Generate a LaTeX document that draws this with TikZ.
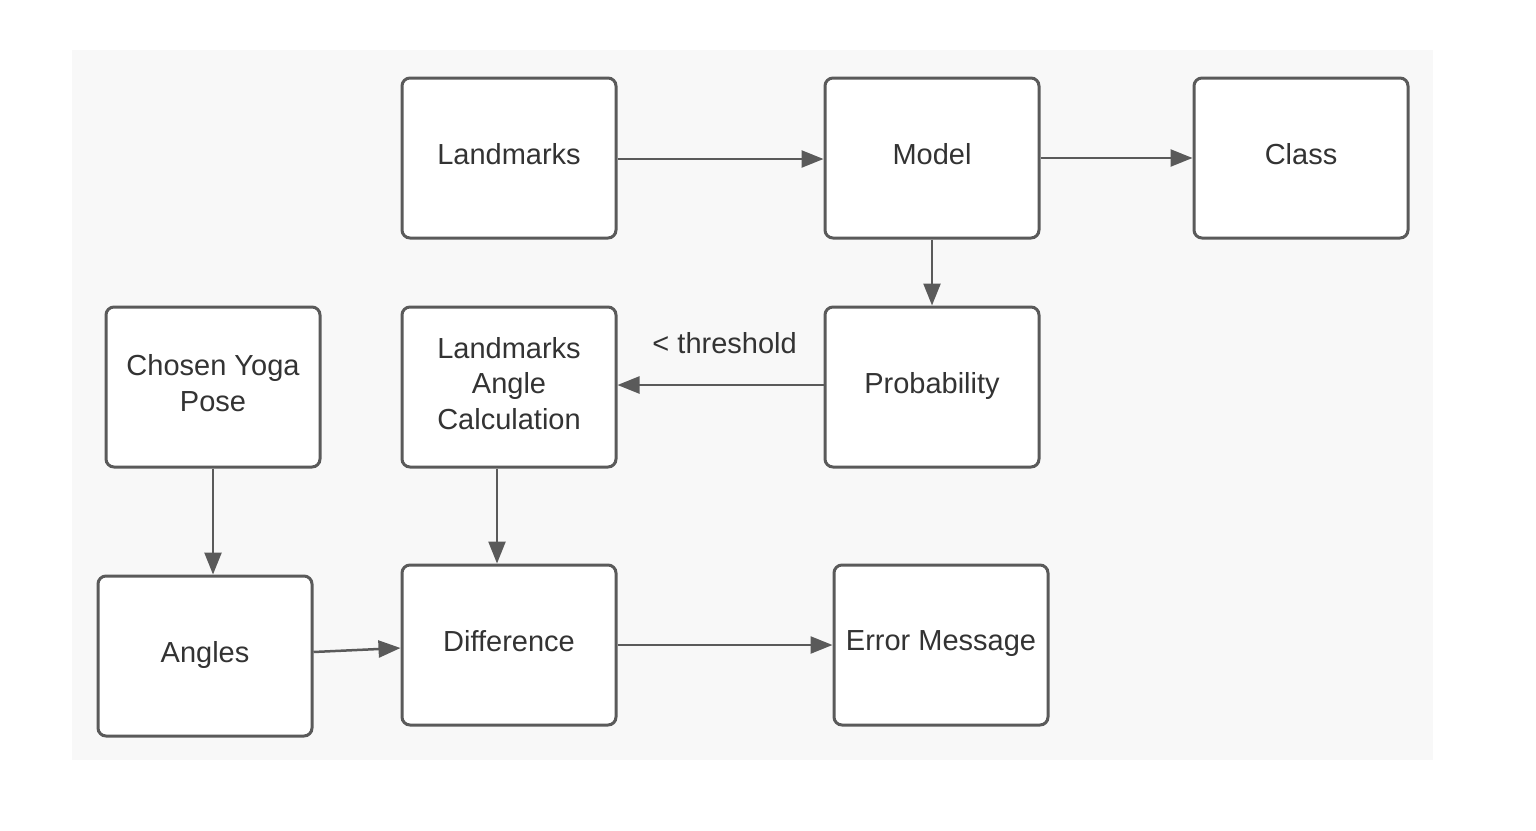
\documentclass[tikz,border=0pt]{standalone}
\usepackage{fontspec}
\setmainfont{Liberation Sans}
\usetikzlibrary{arrows.meta}
\definecolor{bggray}{HTML}{F8F8F8}
\definecolor{edgegray}{HTML}{5A5A5A}
\definecolor{txtgray}{HTML}{333333}
\tikzset{
  box/.style={draw=edgegray, line width=3pt, fill=white, rounded corners=8pt,
    minimum width=214pt, minimum height=160pt, inner sep=0pt, align=center,
    text depth=8pt, text=txtgray, font=\fontsize{29}{35.5}\selectfont},
  conn/.style={draw=edgegray, line width=2.5pt, -{Triangle[length=22pt,width=17pt]}},
  lbl/.style={text=txtgray, font=\fontsize{29}{35.5}\selectfont, inner sep=0pt}
}
\begin{document}
\begin{tikzpicture}[x=1pt,y=-1pt]
\useasboundingbox (0,0) rectangle (1536,830);
\fill[bggray] (72,50) rectangle (1433,760);
\node[box] (lm) at (509,158) {Landmarks};
\node[box] (model) at (932,158) {Model};
\node[box] (class) at (1301,158) {Class};
\node[box] (chosen) at (213,387) {Chosen Yoga\\Pose};
\node[box] (lac) at (509,387) {Landmarks\\Angle\\Calculation};
\node[box] (prob) at (932,387) {Probability};
\node[box] (angles) at (205,656) {Angles};
\node[box] (diff) at (509,645) {Difference};
\node[box] (err) at (941,645) {Error Message};
\draw[conn] (lm.east |- 0,159) -- (model.west |- 0,159);
\draw[conn] (model.east) -- (class.west);
\draw[conn] (model.south) -- (prob.north);
\draw[conn] (prob.west |- 0,385) -- (lac.east |- 0,385) node[lbl, pos=0.48, above=30pt] {< threshold};
\draw[conn] (lac.south -| 497,0) -- (diff.north -| 497,0);
\draw[conn] (chosen.south) -- (angles.north -| 213,0);
\draw[conn] (angles.east |- 0,652) -- (diff.west |- 0,648);
\draw[conn] (diff.east) -- (err.west);
\end{tikzpicture}
\end{document}
